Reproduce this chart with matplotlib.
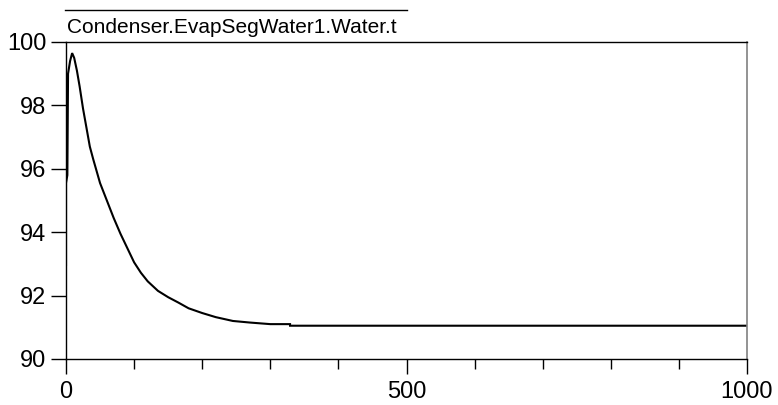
import matplotlib
matplotlib.use("Agg")
import matplotlib.pyplot as plt
from matplotlib.lines import Line2D

plt.rcParams['font.family'] = ['Liberation Sans', 'DejaVu Sans']

title = "Condenser.EvapSegWater1.Water.t"
time = [0, 0, 2, 3, 6, 9, 12, 16, 20, 25, 30, 35, 40, 50, 60, 70, 80, 90, 100,
        110, 120, 135, 150, 165, 180, 200, 220, 245, 270, 300, 329, 329, 1000]
temp = [92.97, 95.55, 95.8, 99.0, 99.4, 99.65, 99.5, 99.1, 98.6, 97.9, 97.3, 96.7,
        96.3, 95.55, 95.0, 94.45, 93.95, 93.5, 93.05, 92.72, 92.45, 92.15, 91.95,
        91.78, 91.6, 91.45, 91.32, 91.2, 91.15, 91.1, 91.1, 91.05, 91.05]
xticks = [0, 500, 1000]
yticks = [90, 92, 94, 96, 98, 100]

fig = plt.figure(figsize=(7.78, 4.05), dpi=100)
ax = fig.add_axes([66/778, 46/405, 681/778, 317/405])
ax.plot(time, temp, color='black', lw=1.5, solid_joinstyle='miter')
ax.set_xlim(0, 1000)
ax.set_ylim(90, 100)
ax.set_xticks(xticks)
ax.set_xticks(range(100, 1000, 100), minor=True)
ax.set_yticks(yticks)
ax.tick_params(axis='both', which='major', labelsize=17, length=11, width=1, pad=3)
ax.tick_params(axis='x', which='minor', length=7, width=1)
ax.tick_params(axis='x', pad=5)
for s in ['left', 'bottom', 'top']:
    ax.spines[s].set_color('black')
    ax.spines[s].set_linewidth(1)
ax.spines['right'].set_color('#808080')
ax.spines['right'].set_linewidth(1.2)

fig.text(67/778, 1 - 33/405, title, fontsize=15, ha='left', va='baseline')
fig.add_artist(Line2D([65/778, 407/778], [1 - 10/405, 1 - 10/405], color='black', lw=1))

fig.savefig('out.png', dpi=100)
